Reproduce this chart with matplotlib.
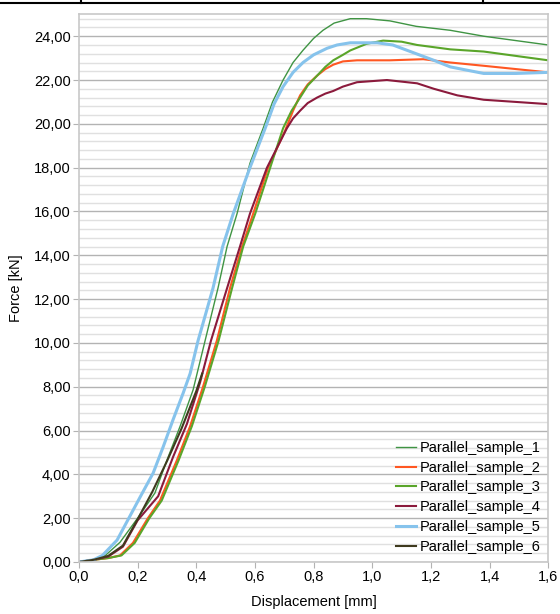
import matplotlib
matplotlib.use('Agg')
from matplotlib import pyplot as plt
from matplotlib.lines import Line2D
from matplotlib.ticker import MultipleLocator, FuncFormatter

plt.rcParams['font.family'] = ['Liberation Sans', 'DejaVu Sans']

# data: displacement [mm] / force [kN]
s1_d = [0, 0.05, 0.09, 0.14, 0.2, 0.259, 0.3, 0.345, 0.389, 0.43, 0.474, 0.505, 0.539, 0.583, 0.628,
        0.66, 0.696, 0.73, 0.764, 0.80, 0.832, 0.87, 0.925, 0.98, 1.06, 1.15, 1.266, 1.38, 1.49, 1.6]
s1_f = [0, 0.1, 0.3, 0.9, 2.0, 3.15, 4.65, 6.2, 7.85, 10.1, 12.5, 14.4, 15.9, 18.2, 19.8,
        21.0, 22.0, 22.8, 23.36, 23.9, 24.27, 24.6, 24.8, 24.8, 24.7, 24.45, 24.27, 24.0, 23.8, 23.6]

s2_d = [0, 0.05, 0.1, 0.14, 0.184, 0.235, 0.276, 0.334, 0.379, 0.423, 0.47, 0.515, 0.556, 0.594, 0.645,
        0.703, 0.73, 0.754, 0.78, 0.812, 0.84, 0.867, 0.90, 0.948, 1.06, 1.174, 1.266, 1.38, 1.49, 1.6]
s2_f = [0, 0.1, 0.18, 0.3, 0.87, 2.0, 2.8, 4.65, 6.2, 8.0, 10.1, 12.5, 14.4, 15.9, 18.0,
        19.7, 20.6, 21.3, 21.8, 22.2, 22.5, 22.7, 22.85, 22.9, 22.9, 22.95, 22.8, 22.65, 22.5, 22.35]

s3_d = [0, 0.05, 0.1, 0.145, 0.19, 0.24, 0.282, 0.34, 0.385, 0.429, 0.476, 0.522, 0.56, 0.601, 0.652,
        0.696, 0.725, 0.754, 0.78, 0.812, 0.84, 0.867, 0.90, 0.925, 0.98, 1.037, 1.1, 1.153, 1.266,
        1.38, 1.49, 1.6]
s3_f = [0, 0.1, 0.18, 0.3, 0.87, 2.0, 2.8, 4.65, 6.2, 8.0, 10.1, 12.5, 14.4, 15.9, 18.0,
        19.8, 20.6, 21.2, 21.75, 22.2, 22.6, 22.9, 23.15, 23.35, 23.65, 23.8, 23.75, 23.6, 23.4,
        23.3, 23.1, 22.9]

s4_d = [0, 0.05, 0.1, 0.15, 0.2, 0.27, 0.321, 0.368, 0.413, 0.45, 0.505, 0.549, 0.583, 0.641, 0.675,
        0.709, 0.73, 0.754, 0.78, 0.812, 0.84, 0.867, 0.90, 0.948, 1.05, 1.153, 1.21, 1.29, 1.38,
        1.49, 1.6]
s4_f = [0, 0.1, 0.25, 0.7, 1.9, 3.0, 4.8, 6.3, 8.2, 10.1, 12.5, 14.4, 15.9, 18.0, 18.9,
        19.8, 20.25, 20.6, 20.95, 21.2, 21.38, 21.5, 21.7, 21.9, 22.0, 21.85, 21.6, 21.3, 21.1,
        21.0, 20.9]

s5_d = [0, 0.05, 0.08, 0.13, 0.17, 0.21, 0.253, 0.287, 0.321, 0.355, 0.379, 0.406, 0.457, 0.49, 0.526,
        0.583, 0.635, 0.665, 0.696, 0.73, 0.764, 0.80, 0.846, 0.88, 0.925, 1.017, 1.07, 1.15, 1.21,
        1.266, 1.38, 1.49, 1.6]
s5_f = [0, 0.1, 0.3, 1.0, 2.0, 3.0, 4.06, 5.25, 6.5, 7.7, 8.6, 10.1, 12.5, 14.4, 15.9,
        18.0, 19.8, 20.9, 21.7, 22.35, 22.8, 23.15, 23.45, 23.6, 23.7, 23.7, 23.6, 23.2, 22.9,
        22.6, 22.3, 22.3, 22.35]

s6_d = [0, 0.05, 0.1, 0.15, 0.2, 0.25, 0.3, 0.35, 0.4, 0.42]
s6_f = [0, 0.1, 0.28, 0.75, 1.95, 3.2, 4.6, 6.1, 7.8, 8.6]

labels = ['Parallel_sample_1', 'Parallel_sample_2', 'Parallel_sample_3',
          'Parallel_sample_4', 'Parallel_sample_5', 'Parallel_sample_6']

fig = plt.figure(figsize=(5.6, 6.14), dpi=100)
ax = fig.add_axes([0.141, 0.0847, 0.838, 0.892])

ax.plot(s1_d, s1_f, color='#3f9443', lw=1.0, label=labels[0])
ax.plot(s2_d, s2_f, color='#ff5722', lw=1.5, label=labels[1])
ax.plot(s3_d, s3_f, color='#5aa52a', lw=1.5, label=labels[2])
ax.plot(s4_d, s4_f, color='#8b1a3c', lw=1.5, label=labels[3])
ax.plot(s5_d, s5_f, color='#86c3ec', lw=2.2, label=labels[4])
ax.plot(s6_d, s6_f, color='#3f3a1e', lw=1.5, label=labels[5])

ax.set_xlim(0, 1.6)
ax.set_ylim(0, 25)
ax.xaxis.set_major_locator(MultipleLocator(0.2))
ax.yaxis.set_major_locator(MultipleLocator(2))
ax.yaxis.set_minor_locator(MultipleLocator(0.4))
ax.xaxis.set_major_formatter(FuncFormatter(lambda v, p: ('%.1f' % v).replace('.', ',')))
ax.yaxis.set_major_formatter(FuncFormatter(lambda v, p: ('%.2f' % v).replace('.', ',')))

ax.grid(axis='y', which='major', color='#b3b3b3', lw=1.0)
ax.grid(axis='y', which='minor', color='#e0e0e0', lw=1.0)
ax.set_axisbelow(True)
ax.tick_params(which='major', direction='out', length=4, pad=2, color='#b3b3b3', labelsize=10.5)
ax.tick_params(which='minor', length=0)
for s in ax.spines.values():
    s.set_color('#c8c8c8')
    s.set_linewidth(1.2)

ax.set_xlabel('Displacement [mm]', fontsize=10.5, labelpad=8)
ax.set_ylabel('Force [kN]', fontsize=10.5, labelpad=8)

ax.legend(loc='lower right', frameon=False, fontsize=10.5, handlelength=1.4,
          handletextpad=0.2, labelspacing=0.4, borderaxespad=0.15)

# table border at the top of the screenshot
fig.add_artist(Line2D([0, 1], [0.995, 0.995], transform=fig.transFigure, color='black', lw=1.5))
fig.add_artist(Line2D([0.1446, 0.1446], [0.995, 1], transform=fig.transFigure, color='black', lw=1.5))
fig.add_artist(Line2D([0.8625, 0.8625], [0.995, 1], transform=fig.transFigure, color='black', lw=1.5))

fig.savefig('out.png', dpi=100)
